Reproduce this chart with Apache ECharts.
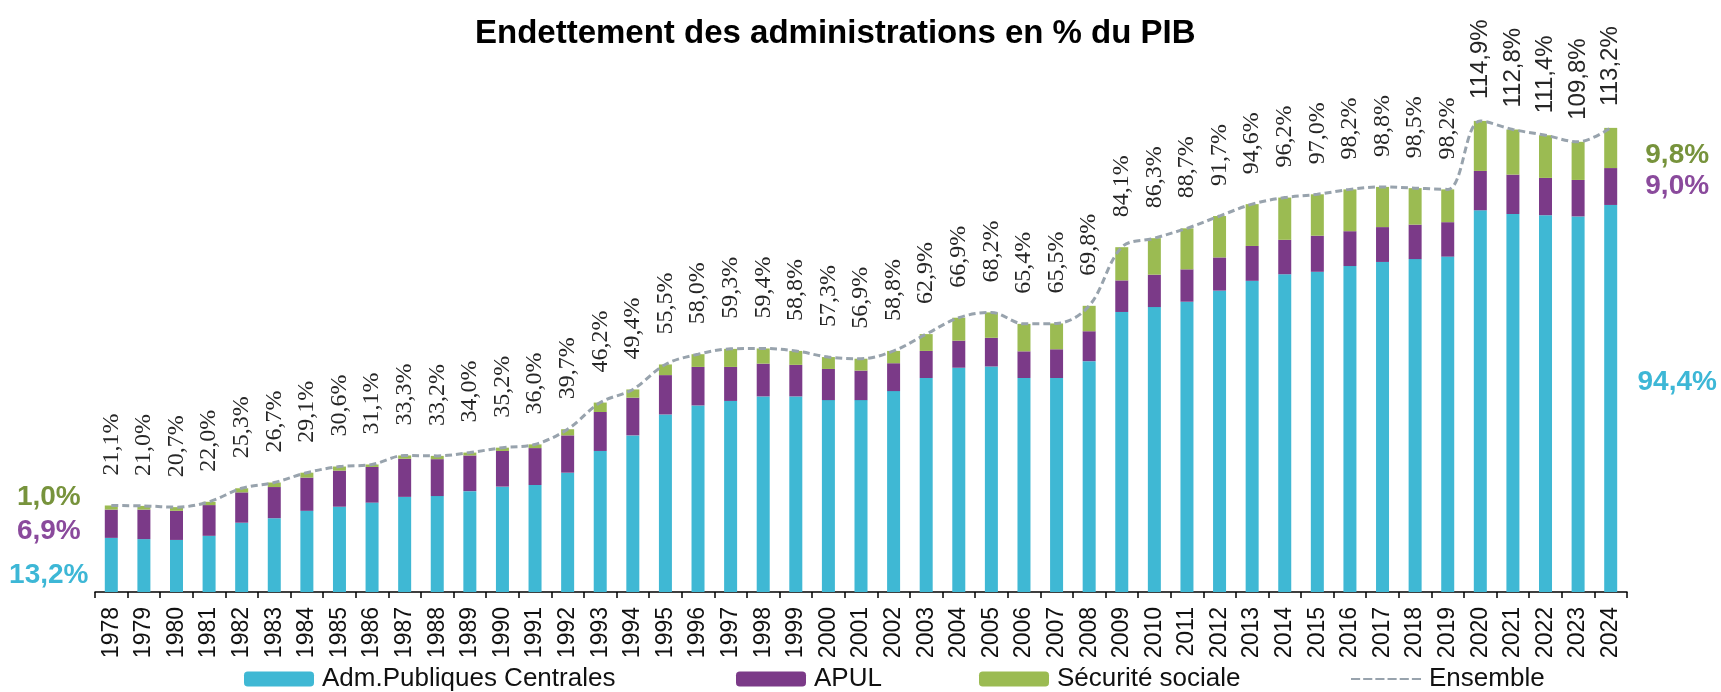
<!DOCTYPE html>
<html>
<head>
<meta charset="utf-8">
<script src="https://cdn.jsdelivr.net/npm/echarts@6/dist/echarts.min.js"></script>
<style>
html,body{margin:0;padding:0;background:#fff;}
#chart{width:1721px;height:692px;}
</style>
</head>
<body>
<div id="chart"></div>
<script>
const years = ['1978','1979','1980','1981','1982','1983','1984','1985','1986','1987','1988','1989','1990','1991','1992','1993','1994','1995','1996','1997','1998','1999','2000','2001','2002','2003','2004','2005','2006','2007','2008','2009','2010','2011','2012','2013','2014','2015','2016','2017','2018','2019','2020','2021','2022','2023','2024'];
const apuc = [13.2,12.9,12.7,13.7,16.9,18.0,19.8,20.8,21.8,23.2,23.4,24.6,25.7,26.1,29.1,34.4,38.2,43.3,45.5,46.6,47.7,47.7,46.8,46.8,49.0,52.2,54.7,55.0,52.2,52.2,56.3,68.3,69.5,70.8,73.5,75.9,77.5,78.1,79.5,80.5,81.2,81.8,93.1,92.2,91.9,91.6,94.4];
const apul = [6.9,7.2,7.1,7.5,7.4,7.6,8.1,8.8,8.7,9.3,9.0,8.7,8.7,9.0,9.1,9.5,9.2,9.6,9.4,8.3,8.0,7.7,7.6,7.2,6.8,6.6,6.6,7.0,6.5,7.0,7.3,7.7,7.9,7.9,8.1,8.5,8.4,8.8,8.5,8.5,8.4,8.4,9.6,9.6,9.1,8.9,9.0];
const secu = [1.0,0.9,0.9,0.8,1.0,1.1,1.2,1.0,0.6,0.8,0.8,0.7,0.8,0.9,1.5,2.3,2.0,2.6,3.1,4.4,3.7,3.4,2.9,2.9,3.0,4.1,5.6,6.2,6.7,6.3,6.2,8.1,8.9,10.0,10.1,10.2,10.3,10.1,10.2,9.8,8.9,8.0,12.2,11.0,10.4,9.3,9.8];
const ensemble = [21.1,21.0,20.7,22.0,25.3,26.7,29.1,30.6,31.1,33.3,33.2,34.0,35.2,36.0,39.7,46.2,49.4,55.5,58.0,59.3,59.4,58.8,57.3,56.9,58.8,62.9,66.9,68.2,65.4,65.5,69.8,84.1,86.3,88.7,91.7,94.6,96.2,97.0,98.2,98.8,98.5,98.2,114.9,112.8,111.4,109.8,113.2];
const seriesNames = ['Adm.Publiques Centrales','APUL','Sécurité sociale','Ensemble'];

const C_APUC = '#3fb8d4', C_APUL = '#7b3a88', C_SECU = '#9bbb52', C_LINE = '#98a3ad';
const fmt = v => v.toFixed(1).replace('.', ',') + '%';
const last = years.length - 1;

function sideLabels(vals, color, leftDy, rightDy) {
  return vals.map((v, i) => {
    if (i === 0 || i === last) {
      const left = i === 0;
      return {
        value: v,
        label: {
          show: true,
          position: left ? 'left' : 'right',
          align: 'center',
          distance: left ? 56 : 60,
          offset: [0, left ? leftDy : rightDy],
          formatter: p => fmt(p.value),
          color: color,
          fontFamily: 'Liberation Sans, Arial, sans-serif',
          fontWeight: 'bold',
          fontSize: 28
        }
      };
    }
    return v;
  });
}

const lineData = ensemble.map((v, i) => (+years[i] >= 2020)
  ? { value: v, label: { fontFamily: 'Liberation Sans, Arial, sans-serif', fontSize: 24, distance: 22 } }
  : v);

const legendBase = {
  top: 661,
  itemWidth: 70,
  itemHeight: 15,
  itemGap: 0,
  textStyle: { fontFamily: 'Liberation Sans, Arial, sans-serif', fontSize: 26, color: '#111', padding: [0, 0, 0, 3] }
};

const dashIcon = 'path://M0 0h9v2H0z M12 0h9v2h-9z M24 0h9v2h-9z M36 0h9v2h-9z M48 0h9v2h-9z M60 0h9v2h-9z';

const chart = echarts.init(document.getElementById('chart'), null, { renderer: 'canvas' });
chart.setOption({
  backgroundColor: '#ffffff',
  animation: false,
  title: {
    text: 'Endettement des administrations en % du PIB',
    left: 470,
    top: 12,
    textStyle: { fontFamily: 'Liberation Sans, Arial, sans-serif', fontWeight: 'bold', fontSize: 33, color: '#000' }
  },
  legend: [
    Object.assign({}, legendBase, { left: 239, data: [seriesNames[0]] }),
    Object.assign({}, legendBase, { left: 731, data: [seriesNames[1]] }),
    Object.assign({}, legendBase, { left: 974, data: [seriesNames[2]] }),
    Object.assign({}, legendBase, { left: 1346, itemHeight: 3, data: [{ name: seriesNames[3], icon: dashIcon }] })
  ],
  grid: { left: 95, right: 94, top: 100, bottom: 100, containLabel: false },
  xAxis: {
    type: 'category',
    data: years,
    boundaryGap: true,
    axisLine: { lineStyle: { color: '#000', width: 1.5 } },
    axisTick: { show: true, alignWithLabel: false, length: 6, lineStyle: { color: '#000', width: 1.5 } },
    axisLabel: {
      rotate: 90,
      interval: 0,
      margin: 15,
      fontFamily: 'Liberation Sans, Arial, sans-serif',
      fontSize: 23,
      color: '#111'
    }
  },
  yAxis: {
    type: 'value',
    min: 0,
    max: 120,
    show: false,
    splitLine: { show: false }
  },
  series: [
    {
      name: seriesNames[0], type: 'bar', stack: 'dette', barWidth: 13,
      itemStyle: { color: C_APUC },
      data: sideLabels(apuc, '#3db7d6', 10, -16)
    },
    {
      name: seriesNames[1], type: 'bar', stack: 'dette', barWidth: 13,
      itemStyle: { color: C_APUL },
      data: sideLabels(apul, '#8a4a9c', 8, 0)
    },
    {
      name: seriesNames[2], type: 'bar', stack: 'dette', barWidth: 13,
      itemStyle: { color: C_SECU },
      data: sideLabels(secu, '#77933c', -10, 7)
    },
    {
      name: seriesNames[3], type: 'line', smooth: 0.35,
      symbol: 'circle', symbolSize: 0.01, showSymbol: true, z: 5,
      itemStyle: { color: C_LINE },
      lineStyle: { color: C_LINE, width: 3, type: [7, 4] },
      label: {
        show: true,
        position: 'top',
        rotate: 90,
        align: 'left',
        verticalAlign: 'middle',
        distance: 30,
        formatter: p => fmt(p.value),
        fontFamily: 'Liberation Serif, Times New Roman, serif',
        fontSize: 24,
        color: '#262626'
      },
      labelLayout: { hideOverlap: false },
      data: lineData
    }
  ]
});
</script>
</body>
</html>
